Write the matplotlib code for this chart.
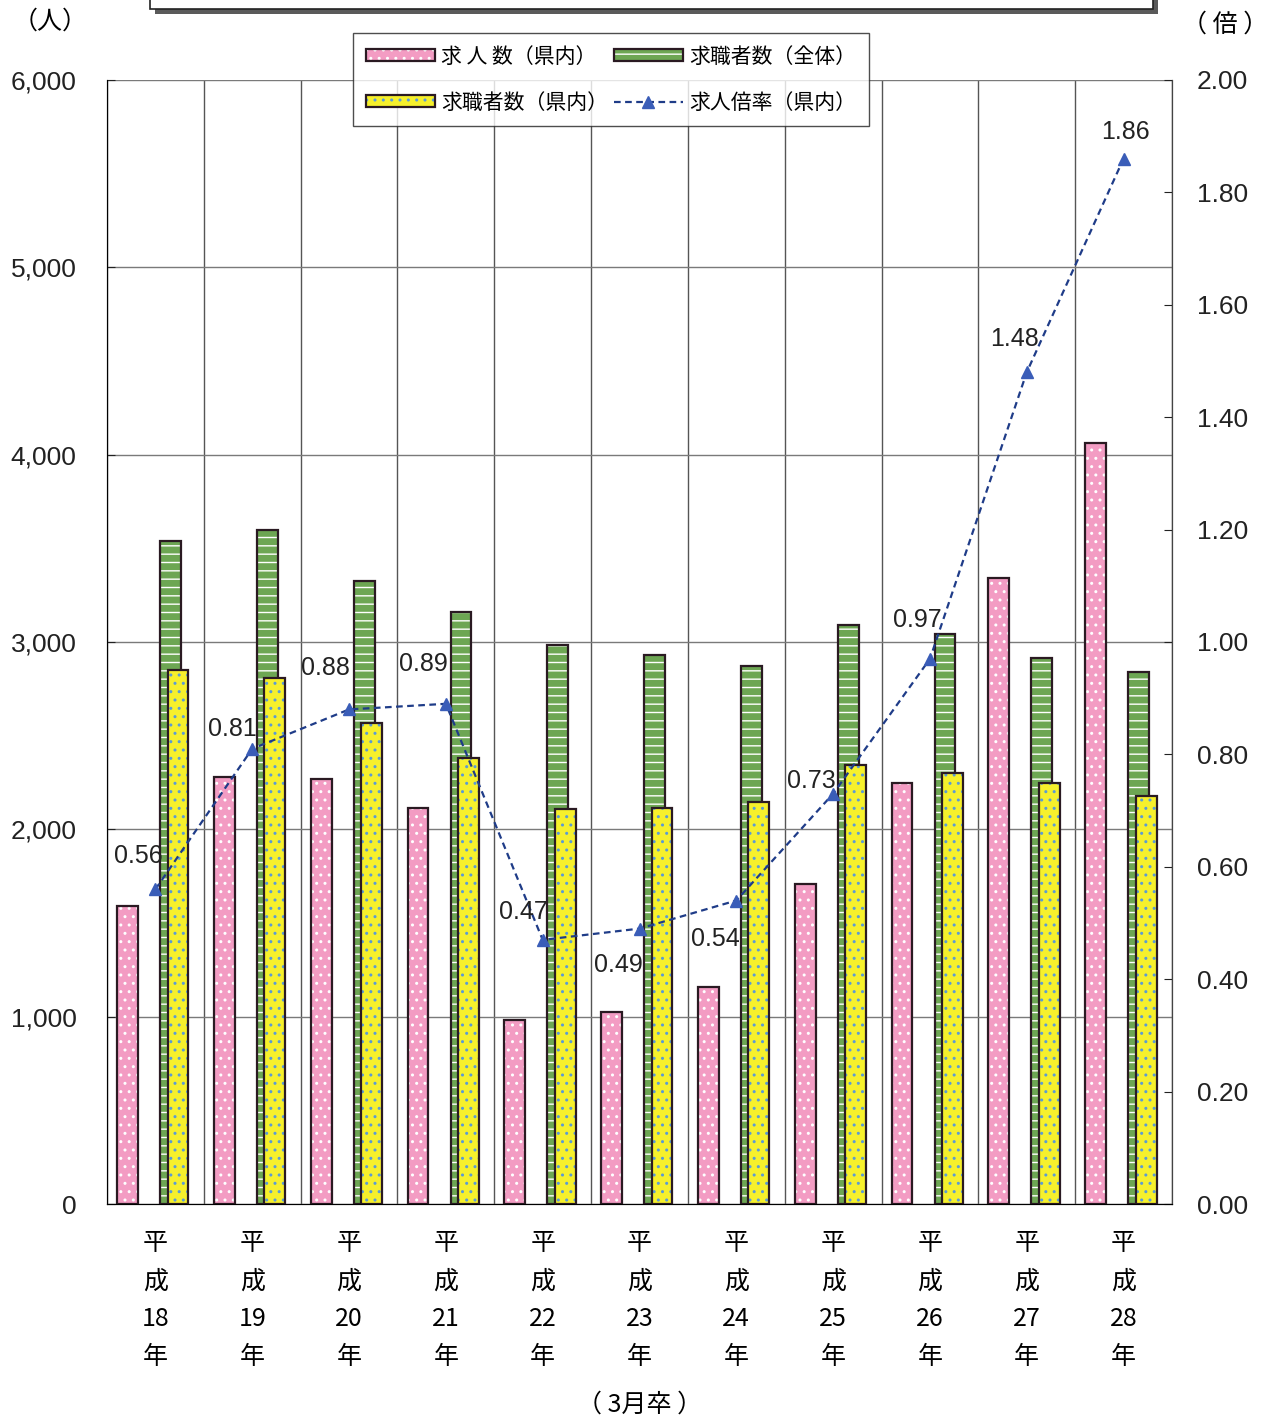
import matplotlib
matplotlib.use('Agg')
import matplotlib.pyplot as plt
import matplotlib.patches as mpatches
import matplotlib.ticker as ticker
from matplotlib.legend_handler import HandlerTuple
import numpy as np

# Data
years = ['18', '19', '20', '21', '22', '23', '24', '25', '26', '27', '28']
openings_pref = [1590, 2280, 2270, 2115, 980, 1025, 1160, 1710, 2245, 3340, 4060]
seekers_all = [3540, 3600, 3325, 3160, 2985, 2930, 2870, 3090, 3045, 2915, 2840]
seekers_pref = [2850, 2810, 2570, 2380, 2110, 2115, 2145, 2345, 2300, 2245, 2180]
ratio_pref = [0.56, 0.81, 0.88, 0.89, 0.47, 0.49, 0.54, 0.73, 0.97, 1.48, 1.86]
xtick_labels = ['平\n成\n%s\n年' % y for y in years]

# label offsets in points (layout only)
ratio_offsets = [(-12, 24), (-14, 14), (-17, 30), (-16, 29), (-14, 20), (-15, -26),
                 (-15, -28), (-16, 9), (-9, 28), (-9, 24), (1, 19)]

CJK = ['Noto Sans CJK JP', 'DejaVu Sans']
NUM = ['Liberation Sans Narrow', 'Liberation Sans', 'DejaVu Sans']
plt.rcParams['font.family'] = CJK

color_pink = '#f39cc3'
color_green = '#6da653'
color_yellow = '#f6f02c'
color_edge = '#2a1a22'
color_line = '#1f3c88'

fig = plt.figure(figsize=(12.71, 14.23), dpi=100)
ax = fig.add_axes([0.0842, 0.1539, 0.8379, 0.7899])
ax2 = ax.twinx()

x = np.arange(len(years))
w = 0.215


def hatched_bar(xs, vals, color, hatch, hatch_color, zorder):
    fill = ax.bar(xs, vals, w, color=color, edgecolor=hatch_color, hatch=hatch,
                  linewidth=0, zorder=zorder)
    edge = ax.bar(xs, vals, w, fill=False, edgecolor=color_edge, linewidth=1.6,
                  zorder=zorder + 0.1)
    return fill, edge


pink = hatched_bar(x - 0.288, openings_pref, color_pink, '..', 'white', 3)
green = hatched_bar(x + 0.156, seekers_all, color_green, '--', 'white', 3)
yellow = hatched_bar(x + 0.233, seekers_pref, color_yellow, '..', '#5b9bd5', 4)

# Left axis
ax.set_xlim(-0.5, len(years) - 0.5)
ax.set_ylim(0, 6000)
ax.set_yticks(range(0, 6001, 1000))
ax.yaxis.set_major_formatter(ticker.FuncFormatter(lambda v, p: f'{int(v):,}'))
ax.tick_params(axis='y', direction='in', length=6, pad=22, labelsize=19, colors='#222222')
for lab in ax.get_yticklabels():
    lab.set_family(NUM)
ax.set_xticks(x)
ax.set_xticklabels(xtick_labels, fontsize=18, linespacing=1.6, va='top')
ax.tick_params(axis='x', length=0, pad=19)
ax.set_xticks(np.arange(-0.5, len(years), 1), minor=True)
ax.tick_params(axis='x', which='minor', length=0)
ax.grid(True, axis='y', color='#7a7a7a', linewidth=1, zorder=0)
ax.grid(True, axis='x', which='minor', color='#555555', linewidth=1, zorder=0)
ax.set_axisbelow(True)
ax.spines['top'].set_visible(False)
ax.spines['left'].set_color('#555555')
ax.spines['bottom'].set_color('#333333')

# Right axis
ax2.set_ylim(0, 2.0)
ax2.set_yticks(np.arange(0, 2.01, 0.2))
ax2.yaxis.set_major_formatter(ticker.FormatStrFormatter('%.2f'))
ax2.tick_params(axis='y', direction='in', length=6, pad=18, labelsize=19, colors='#222222')
for lab in ax2.get_yticklabels():
    lab.set_family(NUM)
ax2.spines['top'].set_visible(False)
ax2.spines['right'].set_color('#444444')

line, = ax2.plot(x, ratio_pref, linestyle=(0, (3, 2)), color=color_line, linewidth=1.6,
                 marker='^', markersize=9, markerfacecolor='#3a5db8',
                 markeredgecolor='#3a5db8', zorder=6)
for xi, r, off in zip(x, ratio_pref, ratio_offsets):
    ax2.annotate(f'{r:.2f}', (xi, r), xytext=off, textcoords='offset points',
                 ha='center', va='center', fontsize=18, family=NUM, color='#222222',
                 zorder=7)

# Legend
handles = [(pink[0][0], pink[1][0]), (yellow[0][0], yellow[1][0]),
           (green[0][0], green[1][0]), line]
labels = ['求 人 数（県内）', '求職者数（県内）', '求職者数（全体）', '求人倍率（県内）']
leg = fig.legend(handles, labels, ncol=2, loc='upper left',
                 bbox_to_anchor=(0.278, 0.9766), fontsize=15,
                 handler_map={tuple: HandlerTuple(ndivide=1, pad=0)},
                 frameon=True, fancybox=False, edgecolor='#222222',
                 handlelength=3.3, handleheight=0.5, labelspacing=1.15,
                 columnspacing=0.3, borderpad=0.6, borderaxespad=0,
                 handletextpad=0.3)
leg.get_frame().set_linewidth(1.0)

# Axis unit labels
fig.text(50 / 1271, 1 - 22 / 1423, '（人）', fontsize=18, ha='center', va='center')
fig.text(1225 / 1271, 1 - 25 / 1423, '（ 倍 ）', fontsize=18, ha='center', va='center')
fig.text(640 / 1271, 1 - 1405 / 1423, '（ 3月卒 ）', fontsize=18, ha='center', va='center')

# Frame of the title box (cut off at top)
shadow = mpatches.Rectangle((155 / 1271, 1 - 14 / 1423), 1003 / 1271, 0.05,
                            transform=fig.transFigure, facecolor='#5a5a5a',
                            edgecolor='none', zorder=1)
frame = mpatches.Rectangle((150 / 1271, 1 - 9 / 1423), 1003 / 1271, 0.05,
                           transform=fig.transFigure, facecolor='white',
                           edgecolor='#222222', linewidth=1.2, zorder=2)
fig.patches.extend([shadow, frame])

fig.savefig('out.png', dpi=100)
